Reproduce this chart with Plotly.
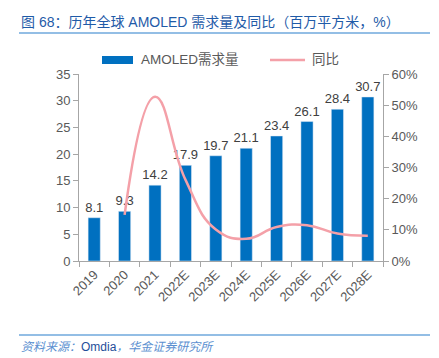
import plotly.graph_objects as go

years = ["2019", "2020", "2021", "2022E", "2023E", "2024E", "2025E", "2026E", "2027E", "2028E"]
demand = [8.1, 9.3, 14.2, 17.9, 19.7, 21.1, 23.4, 26.1, 28.4, 30.7]
yoy = [None, 0.148, 0.527, 0.261, 0.101, 0.071, 0.109, 0.115, 0.088, 0.081]

FONT = "Liberation Sans, Arial, Noto Sans CJK SC"
GRAY = "#595959"
AX = "#A6A6A6"
BAR = "#0070C0"
PINK = "#F4A0A8"

fig = go.Figure()
fig.add_trace(go.Bar(
    x=years, y=demand, name="AMOLED需求量", marker_color=BAR, width=0.4,
    text=[f"{v:.1f}" for v in demand], textposition="outside", cliponaxis=False,
    constraintext="none",
    textfont=dict(size=13, color="#404040", family=FONT), showlegend=False,
))
fig.add_trace(go.Scatter(
    x=years, y=yoy, name="同比", yaxis="y2", mode="lines",
    line=dict(color=PINK, width=2.5, shape="spline", smoothing=1.3),
    showlegend=False,
))

fig.update_layout(
    width=439, height=358,
    margin=dict(l=79, r=56, t=74, b=97),
    paper_bgcolor="white", plot_bgcolor="white",
    font=dict(family=FONT, size=13, color=GRAY),
    bargap=0.6,
    xaxis=dict(type="category", showline=True, linecolor=AX, linewidth=1,
               ticks="outside", tickson="boundaries", ticklen=5, tickcolor=AX,
               tickangle=-45, tickfont=dict(size=13, color=GRAY), showgrid=False),
    yaxis=dict(range=[0, 35], dtick=5, showline=True, linecolor=AX, linewidth=1,
               ticks="outside", ticklen=5, tickcolor=AX, showgrid=False, zeroline=False,
               tickfont=dict(size=13, color=GRAY)),
    yaxis2=dict(range=[0, 0.6], dtick=0.1, tickformat=".0%", overlaying="y", side="right",
                showline=True, linecolor=AX, linewidth=1, ticks="outside", ticklen=5,
                tickcolor=AX, showgrid=False, zeroline=False,
                tickfont=dict(size=13, color=GRAY)),
)

# title and rules
fig.add_annotation(text="图 68：历年全球 AMOLED 需求量及同比（百万平方米，%）",
                   xref="paper", yref="paper", x=(19-79)/304, y=(358-97-22)/187,
                   xanchor="left", yanchor="middle", showarrow=False,
                   font=dict(size=14, color="#1F5BA8", family=FONT))
fig.add_shape(type="line", xref="paper", yref="paper",
              x0=(19-79)/304, x1=(430-79)/304, y0=(261-33)/187, y1=(261-33)/187,
              line=dict(color="#6FA8DC", width=1.5))
fig.add_shape(type="line", xref="paper", yref="paper",
              x0=(19-79)/304, x1=(430-79)/304, y0=(261-335)/187, y1=(261-335)/187,
              line=dict(color="#6FA8DC", width=1.5))
fig.add_annotation(text="<i>资料来源：</i><span style='color:#1F4E9A'>Omdia</span><i>，华金证券研究所</i>",
                   xref="paper", yref="paper", x=(19-79)/304, y=(261-347)/187,
                   xanchor="left", yanchor="middle", showarrow=False,
                   font=dict(size=12, color="#5B8FD0", family=FONT))

# legend
ly = (261-60)/187
fig.add_shape(type="rect", xref="paper", yref="paper",
              x0=(102-79)/304, x1=(133-79)/304, y0=(261-64)/187, y1=(261-56)/187,
              fillcolor=BAR, line=dict(width=0))
fig.add_annotation(text="AMOLED需求量", xref="paper", yref="paper", x=(139-79)/304, y=ly,
                   xanchor="left", yanchor="middle", showarrow=False,
                   font=dict(size=13.5, color=GRAY, family=FONT))
fig.add_shape(type="line", xref="paper", yref="paper",
              x0=(270-79)/304, x1=(305-79)/304, y0=ly, y1=ly,
              line=dict(color=PINK, width=2.5))
fig.add_annotation(text="同比", xref="paper", yref="paper", x=(310-79)/304, y=ly,
                   xanchor="left", yanchor="middle", showarrow=False,
                   font=dict(size=13.5, color=GRAY, family=FONT))

fig.write_html("out.html", config={"displayModeBar": False},
               post_script="document.body.style.margin='0';document.body.style.overflow='hidden';")
